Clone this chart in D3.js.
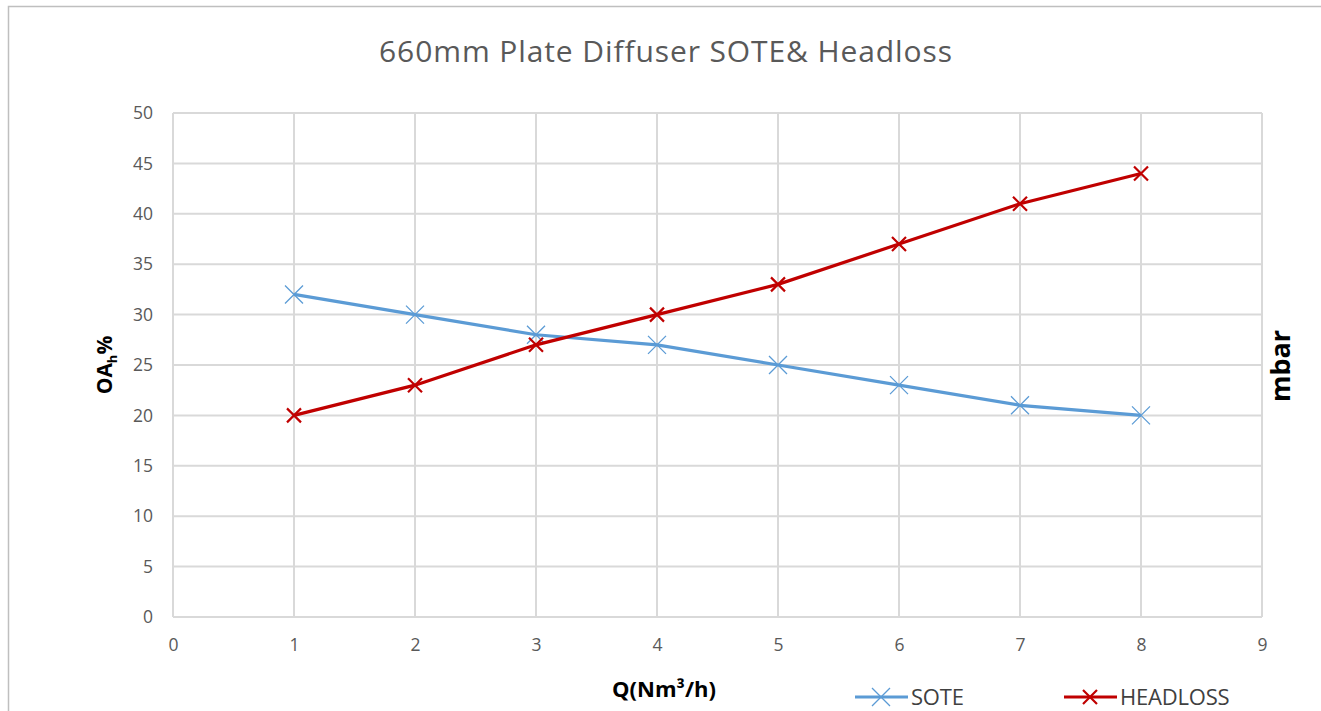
<!DOCTYPE html>
<html>
<head>
<meta charset="utf-8">
<script src="https://cdn.jsdelivr.net/npm/d3@7"></script>
<style>
  body { margin: 0; background: #fff; }
  text { font-family: "Open Sans", sans-serif; }
</style>
</head>
<body>
<div id="chart"></div>
<script>
// 660mm plate diffuser chart

var flow = [1, 2, 3, 4, 5, 6, 7, 8];
var sote = [32, 30, 28, 27, 25, 23, 21, 20];
var headloss = [20, 23, 27, 30, 33, 37, 41, 44];
var xTicks = [0, 1, 2, 3, 4, 5, 6, 7, 8, 9];
var yTicks = [0, 5, 10, 15, 20, 25, 30, 35, 40, 45, 50];

var W = 1321, H = 711;
var margin = {top: 113, right: 59, bottom: 94, left: 173};
var width = W - margin.left - margin.right;
var height = H - margin.top - margin.bottom;

var svg = d3.select("#chart").append("svg")
    .attr("width", W)
    .attr("height", H);

// outer frame
svg.append("rect")
    .attr("x", 8.5).attr("y", 6.5)
    .attr("width", W + 10).attr("height", H + 10)
    .attr("fill", "#fff")
    .attr("stroke", "#bfbfbf")
    .attr("stroke-width", 1.5);

svg.append("text")
    .attr("x", 666).attr("y", 62)
    .attr("text-anchor", "middle")
    .attr("fill", "#595959")
    .style("font-size", "30px")
    .style("letter-spacing", "0.9px")
    .text("660mm Plate Diffuser SOTE& Headloss");

var g = svg.append("g")
    .attr("transform", "translate(" + margin.left + "," + margin.top + ")");

var x = d3.scaleLinear().domain([0, 9]).range([0, width]);
var y = d3.scaleLinear().domain([0, 50]).range([height, 0]);

// grid
g.selectAll(".hgrid").data(yTicks).enter().append("line")
    .attr("x1", 0).attr("x2", width)
    .attr("y1", function(d) { return y(d); })
    .attr("y2", function(d) { return y(d); })
    .attr("stroke", "#d9d9d9").attr("stroke-width", 2);

g.selectAll(".vgrid").data(xTicks).enter().append("line")
    .attr("y1", 0).attr("y2", height)
    .attr("x1", function(d) { return x(d); })
    .attr("x2", function(d) { return x(d); })
    .attr("stroke", "#d9d9d9").attr("stroke-width", 2);

// axes (labels only)
var yAxis = g.append("g")
    .call(d3.axisLeft(y).tickValues(yTicks).tickSize(0).tickPadding(20));
var xAxis = g.append("g")
    .attr("transform", "translate(0," + height + ")")
    .call(d3.axisBottom(x).tickValues(xTicks).tickSize(0).tickPadding(22));
[yAxis, xAxis].forEach(function(a) {
    a.select(".domain").remove();
    a.selectAll("text")
        .attr("fill", "#595959")
        .style("font-family", "'Open Sans', sans-serif")
        .style("font-size", "17.5px");
});

// axis titles
var yt = svg.append("text")
    .attr("transform", "translate(112,365) rotate(-90)")
    .attr("text-anchor", "middle")
    .attr("fill", "#000")
    .style("font-size", "21px").style("font-weight", "bold");
yt.append("tspan").text("OA");
yt.append("tspan").attr("dy", 5).style("font-size", "13px").text("h");
yt.append("tspan").attr("dy", -5).text("%");

svg.append("text")
    .attr("transform", "translate(1290,366) rotate(-90)")
    .attr("text-anchor", "middle")
    .attr("fill", "#000")
    .style("font-size", "27px").style("font-weight", "bold")
    .text("mbar");

svg.append("text")
    .attr("x", 664).attr("y", 697)
    .attr("text-anchor", "middle")
    .attr("fill", "#000")
    .style("font-size", "22px").style("font-weight", "bold")
    .text("Q(Nm³/h)");

// series
var series = [
    {name: "SOTE", values: sote, color: "#5b9bd5", mk: 9, mw: 1.3},
    {name: "HEADLOSS", values: headloss, color: "#c00000", mk: 7, mw: 2.2}
];

var line = d3.line()
    .x(function(d, i) { return x(flow[i]); })
    .y(function(d) { return y(d); });

function cross(sel, s) {
    sel.append("path")
        .attr("d", "M" + (-s.mk) + "," + (-s.mk) + "L" + s.mk + "," + s.mk +
                   "M" + (-s.mk) + "," + s.mk + "L" + s.mk + "," + (-s.mk))
        .attr("stroke", s.color)
        .attr("stroke-width", s.mw)
        .attr("fill", "none");
}

series.forEach(function(s) {
    g.append("path")
        .datum(s.values)
        .attr("d", line)
        .attr("fill", "none")
        .attr("stroke", s.color)
        .attr("stroke-width", 3.2);

    s.values.forEach(function(v, i) {
        var m = g.append("g").attr("transform", "translate(" + x(flow[i]) + "," + y(v) + ")");
        cross(m, s);
    });
});

// legend
var legendX = [855, 1064];
series.forEach(function(s, i) {
    var lg = svg.append("g").attr("transform", "translate(" + legendX[i] + ",697)");
    lg.append("line")
        .attr("x1", 0).attr("x2", 53)
        .attr("stroke", s.color).attr("stroke-width", 3.2);
    var m = lg.append("g").attr("transform", "translate(26,0)");
    cross(m, s);
    lg.append("text")
        .attr("x", 56).attr("y", 8)
        .attr("fill", "#404040")
        .style("font-size", "22px")
        .style("letter-spacing", "-0.2px")
        .text(s.name);
});
</script>
</body>
</html>
